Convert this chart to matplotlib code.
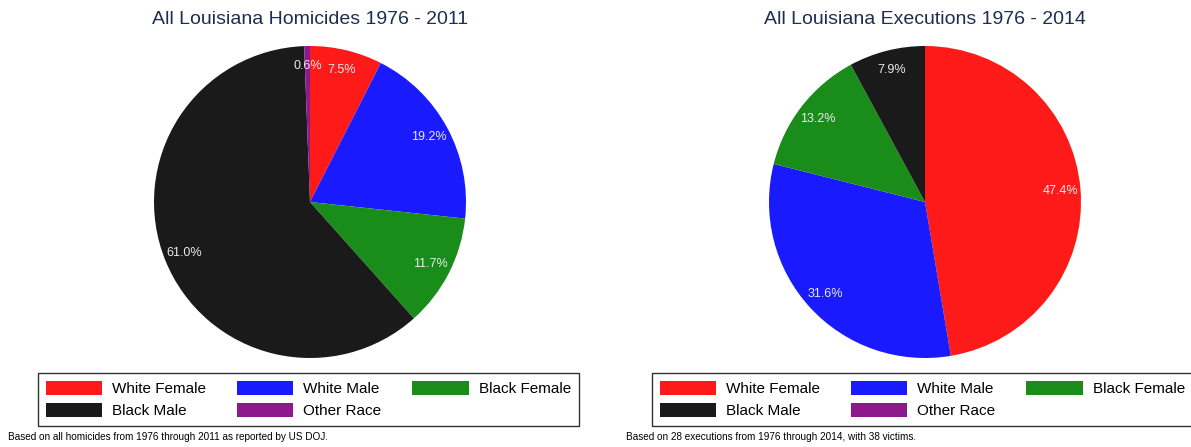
import matplotlib
matplotlib.use("Agg")
import matplotlib.pyplot as plt

plt.rcParams['font.family'] = ['Liberation Sans', 'DejaVu Sans']

categories = ["White Female", "White Male", "Black Female", "Black Male", "Other Race"]
homicide_pct = [7.5, 19.2, 11.7, 61.0, 0.6]
execution_pct = [47.4, 31.6, 13.2, 7.9, 0.0]
colors = ["#FF1A1A", "#1A1AFF", "#1A8C1A", "#1A1A1A", "#8C1A8C"]

titles = ["All Louisiana Homicides 1976 - 2011", "All Louisiana Executions 1976 - 2014"]
notes = ["Based on all homicides from 1976 through 2011 as reported by US DOJ.",
         "Based on 28 executions from 1976 through 2014, with 38 victims."]

W, H = 1191, 447
fig = plt.figure(figsize=(W / 100, H / 100), dpi=100)
fig.patch.set_facecolor("white")

def pct_fmt(p):
    return "" if p < 0.05 else f"{p:.1f}%"

centers = [(310, 202), (925, 202)]
R = 156
legend_left = [38, 652]
note_left = [8, 626]
data = [homicide_pct, execution_pct]

for i in range(2):
    cx, cy = centers[i]
    ax = fig.add_axes([(cx - R) / W, (H - cy - R) / H, 2 * R / W, 2 * R / H])
    wedges, texts, autotexts = ax.pie(
        data[i], colors=colors, startangle=90, counterclock=False,
        autopct=pct_fmt, pctdistance=0.87,
        wedgeprops=dict(linewidth=0),
        textprops=dict(color="#EAEAEA", fontsize=9))
    ax.set_xlim(-1, 1)
    ax.set_ylim(-1, 1)
    ax.set_aspect("equal")
    ax.axis("off")
    fig.text(cx / W, 1 - 20 / H, titles[i], ha="center", va="center",
             fontsize=14, color="#1F2D50")
    order = [0, 3, 1, 4, 2]
    leg = fig.legend([wedges[k] for k in order], [categories[k] for k in order],
                     loc="upper left",
                     bbox_to_anchor=(legend_left[i] / W, 1 - 373 / H),
                     ncol=3, fontsize=11, frameon=True, fancybox=False,
                     edgecolor="black", borderaxespad=0,
                     handlelength=3.7, handleheight=1.05, handletextpad=0.65,
                     columnspacing=2.0, labelspacing=0.42, borderpad=0.52)
    leg.get_frame().set_linewidth(1.0)
    fig.text(note_left[i] / W, 1 - 437 / H, notes[i], ha="left", va="center",
             fontsize=7.2, color="black")

fig.savefig("out.png", dpi=100, facecolor="white")
